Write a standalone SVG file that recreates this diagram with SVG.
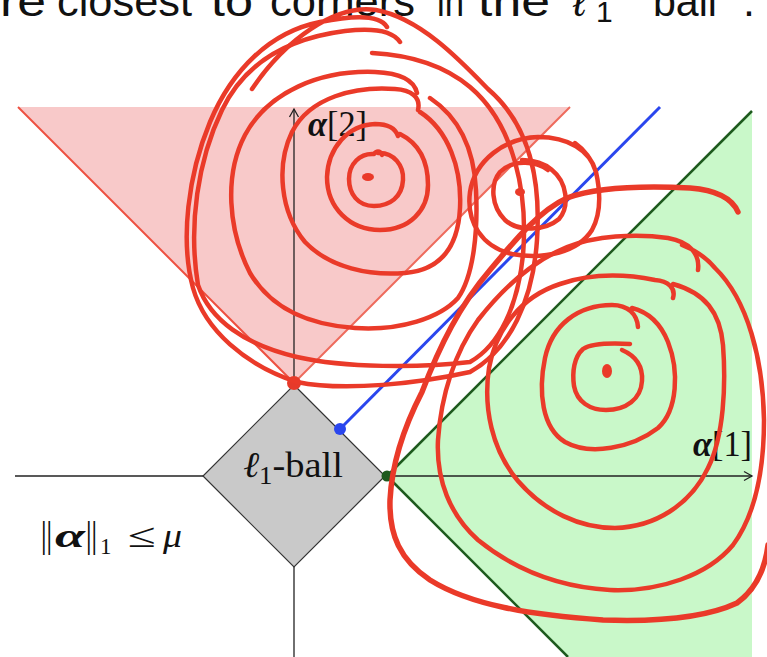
<svg xmlns="http://www.w3.org/2000/svg" width="767" height="657" viewBox="0 0 767 657">
<style>
.title{font-family:"Liberation Sans","DejaVu Sans",sans-serif;font-size:43px;fill:#111}
.math{font-family:"Liberation Serif","DejaVu Serif",serif;fill:#111}
.bar{font-family:"DejaVu Sans",sans-serif;font-size:34px;font-weight:300;fill:#111}
.bi{font-weight:bold;font-style:italic}
.ax{stroke:#222;stroke-width:1.3;fill:none}
.ink{fill:none;stroke:#ea3a29;stroke-width:4.5;stroke-linecap:round;stroke-linejoin:round}
.ink2{fill:none;stroke:#ea3a29;stroke-width:5.5;stroke-linecap:round;stroke-linejoin:round}
</style>
<defs>
<marker id="arr" markerWidth="12" markerHeight="12" refX="10" refY="6" orient="auto" markerUnits="userSpaceOnUse">
<path d="M2,1.5 L10,6 L2,10.5" fill="none" stroke="#222" stroke-width="1.3"/>
</marker>
</defs>
<rect width="767" height="657" fill="#fff"/>
<g id="title">
<text class="title" x="0" y="16" textLength="46" lengthAdjust="spacingAndGlyphs">re</text>
<text class="title" x="57" y="16" textLength="135" lengthAdjust="spacingAndGlyphs">closest</text>
<text class="title" x="211" y="16" textLength="42" lengthAdjust="spacingAndGlyphs">to</text>
<text class="title" x="270" y="16" textLength="145" lengthAdjust="spacingAndGlyphs">corners</text>
<text class="title" x="437" y="16" textLength="27" lengthAdjust="spacingAndGlyphs">in</text>
<text class="title" x="478" y="16" textLength="72" lengthAdjust="spacingAndGlyphs">the</text>
<text class="title" x="573" y="16" style="font-style:italic">ℓ<tspan x="596" y="22" style="font-size:30px;font-style:normal">1</tspan></text>
<text class="title" x="653" y="16" textLength="64" lengthAdjust="spacingAndGlyphs">ball</text>
<text class="title" x="743" y="16">.</text>
</g>
<g id="pink-region">
<polygon points="18,107 570,107 294,383" fill="#f8c9c9"/>
<line x1="18" y1="107" x2="294" y2="383" stroke="#ee5040" stroke-width="2"/>
<line x1="294" y1="383" x2="570" y2="107" stroke="#ee6a5c" stroke-width="2"/>
</g>
<g id="green-region">
<polygon points="387,476 752,111 752,657 568,657" fill="#c9f8c9"/>
<line x1="387" y1="476" x2="752" y2="111" stroke="#1e5a1e" stroke-width="2.5"/>
<line x1="387" y1="476" x2="568" y2="657" stroke="#1e5a1e" stroke-width="2.5"/>
</g>
<g id="axes">
<line class="ax" x1="15" y1="476" x2="752" y2="476" marker-end="url(#arr)"/>
<line class="ax" x1="294" y1="657" x2="294" y2="109" marker-end="url(#arr)"/>
</g>
<g id="l1-ball">
<polygon points="294,385 385,476 294,567 203,476" fill="#c9c9c9" stroke="#333" stroke-width="1.2"/>
<text class="math" x="243" y="477" font-size="36" textLength="100" lengthAdjust="spacingAndGlyphs"><tspan style="font-style:italic">ℓ</tspan><tspan dy="7" font-size="25">1</tspan><tspan dy="-7">-ball</tspan></text>
</g>
<g id="blue-line">
<line x1="340" y1="429" x2="660" y2="107" stroke="#2a46ee" stroke-width="3"/>
<circle cx="340" cy="429" r="6" fill="#2a46ee"/>
</g>
<g id="dots">
<circle cx="387" cy="476" r="5.5" fill="#1e5a1e"/>
<circle cx="294" cy="383" r="7" fill="#e63a2a"/>
</g>
<g id="labels">
<text class="math" x="308" y="136" font-size="35" textLength="59" lengthAdjust="spacingAndGlyphs"><tspan class="bi">α</tspan>[2]</text>
<text class="math" x="693" y="456" font-size="35" textLength="59" lengthAdjust="spacingAndGlyphs"><tspan class="bi">α</tspan>[1]</text>
</g>
<g id="constraint">
<text class="bar" x="38" y="547">‖</text>
<text class="math bi" x="55" y="547" font-size="34" textLength="30" lengthAdjust="spacingAndGlyphs">α</text>
<text class="bar" x="83" y="547">‖</text>
<text class="math" x="100" y="554" font-size="23">1</text>
<text class="math" x="128" y="547" font-size="34" textLength="28" lengthAdjust="spacingAndGlyphs">≤</text>
<text class="math" x="163" y="547" font-size="34" font-style="italic" textLength="19" lengthAdjust="spacingAndGlyphs">μ</text>
</g>
<g id="spiral-top">
<ellipse cx="368" cy="177" rx="6" ry="4" fill="#ea3a29"/>
<path class="ink" d="M382,155 C380,150 376,151 374,154 C360,153 349,164 349,179 C349,194 358,206 374,206 C390,206 402,197 403,180 C404,166 394,152 378,153"/>
<path class="ink" d="M398,136 C395,127 387,124 375,124 C348,125 328,148 327,177 C327,208 350,230 380,230 C410,230 428,210 428,185 C428,160 418,143 400,134"/>
<path class="ink" d="M418,110 C421,97 411,90 395,89 C355,86 310,97 292,132 C276,165 280,212 305,242 C330,268 370,276 405,273 C440,270 458,248 460,208 C462,168 448,130 420,112"/>
<path class="ink" d="M417,93 C414,79 398,73 375,72 C320,70 268,92 245,135 C224,175 228,230 250,273 C272,310 310,325 355,328 C400,331 440,318 458,298 C474,275 478,230 476,190 C474,150 460,118 430,98"/>
<path class="ink" d="M400,42 C392,30 370,28 345,31 C290,38 245,62 222,110 C198,160 188,225 198,285 C210,320 245,345 297,357 C345,368 420,368 470,362 C500,345 518,305 523,255 C528,195 515,125 470,87 C445,66 410,55 372,53"/>
<path class="ink" d="M387,27 C380,15 355,15 320,22 C270,32 232,70 210,122 C188,175 180,240 193,288 C205,330 245,365 297,382 C345,392 420,383 470,372 C510,350 533,300 537,240 C541,180 530,125 488,89 C460,60 420,18 376,10 C335,4 285,40 252,89"/>
</g>
<g id="spiral-small">
<ellipse cx="520" cy="192" rx="5" ry="4" fill="#ea3a29"/>
<path class="ink" d="M548,170 C535,160 512,160 500,172 C490,184 491,206 505,220 C518,232 545,231 559,219 C570,206 567,182 552,170 C544,163 533,160 522,160"/>
<path class="ink" d="M596,172 C590,150 568,137 538,137 C505,138 475,160 470,192 C466,222 482,247 512,254 C545,260 578,252 592,230 C602,212 600,190 596,172 C592,160 585,150 575,143"/>
</g>
<g id="spiral-right">
<ellipse cx="607" cy="371" rx="5" ry="7" fill="#ea3a29"/>
<path class="ink" d="M630,344 C612,343 592,343 583,349 C574,357 572,372 574,386 C577,402 590,410 606,410 C626,410 641,399 642,381 C643,366 636,356 622,350"/>
<path class="ink" d="M638,327 C637,314 628,305 612,305 C578,305 552,325 545,358 C538,392 542,428 565,442 C590,456 632,448 658,428 C678,410 679,370 668,342 C660,322 648,312 632,308"/>
<path class="ink" d="M673,298 C676,288 668,281 655,280 C630,275 595,272 560,284 C520,297 496,330 489,368 C483,408 492,450 518,481 C545,512 580,528 615,528 C655,527 690,505 708,468 C724,436 726,385 723,345 C720,312 705,293 673,284"/>
<path class="ink" d="M698,270 C700,254 690,242 668,238 C635,233 595,236 567,247 C530,262 500,292 478,320 C455,352 441,395 438,440 C436,480 450,515 478,540 C515,570 560,587 610,590 C660,592 708,575 733,545 C755,515 764,470 764,420 C763,360 748,300 715,268 C705,256 695,250 682,245"/>
<path class="ink2" d="M738,212 C732,198 715,190 690,188 C650,186 600,186 567,198 C540,210 515,240 490,270 C460,305 440,345 422,392 C405,425 392,460 390,500 C389,535 400,560 430,580 C470,605 530,615 603,620 C660,622 705,618 737,603 C755,590 765,570 768,545"/>
</g>
</svg>
